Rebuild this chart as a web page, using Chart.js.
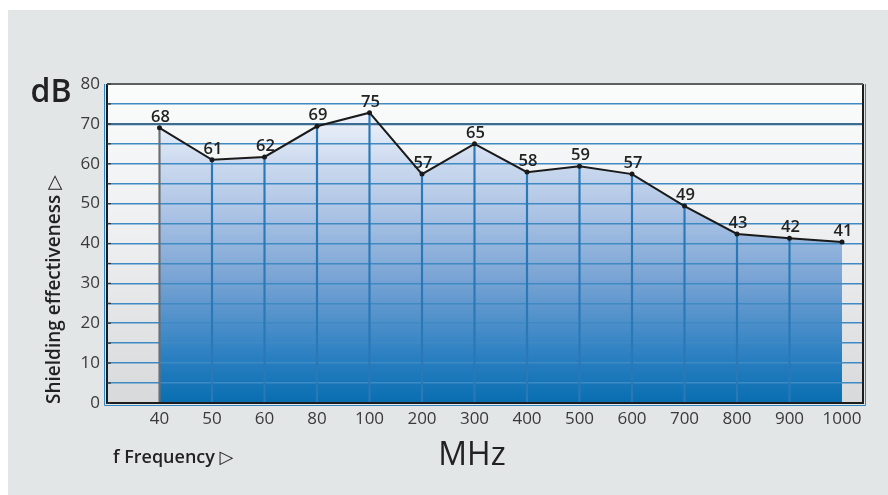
<!DOCTYPE html>
<html>
<head>
<meta charset="utf-8">
<script src="https://cdn.jsdelivr.net/npm/chart.js@4"></script>
<style>
html,body{margin:0;padding:0;background:#fff}
#wrap{width:888px;height:495px;position:relative}
</style>
</head>
<body>
<div id="wrap"><canvas id="grafico" width="888" height="495"></canvas></div>
<script>

// frequency categories (MHz)
const frecuencias = ["40","50","60","80","100","200","300","400","500","600","700","800","900","1000"]

// measured curve as it is plotted (dB)
const valores = [69,61,61.7,69.4,72.8,57.4,65,57.9,59.4,57.4,49.4,42.4,41.3,40.4]

// printed labels over each point
const etiquetas = ["68","61","62","69","75","57","65","58","59","57","49","43","42","41"]

const yTicks = [0,10,20,30,40,50,60,70,80]

const puntos = valores.map((v,i) => ({x:i, y:v}))

const FONT = "'Open Sans', 'DejaVu Sans', sans-serif"


/* =========================
FONDO (detras de todo)
========================= */

const fondo = {
id:"fondo",
beforeDraw(chart){
const ctx = chart.ctx
const a = chart.chartArea
ctx.save()
ctx.globalCompositeOperation = "destination-over"

let g = ctx.createLinearGradient(0,a.top,0,a.bottom)
g.addColorStop(0,"#fbfcfc")
g.addColorStop(0.5,"#eceeef")
g.addColorStop(1,"#d7d9da")
ctx.fillStyle = g
ctx.fillRect(a.left,a.top,a.right-a.left,a.bottom-a.top)

ctx.fillStyle = "#e3e6e7"
ctx.fillRect(8,10,chart.width-8,chart.height-10)

ctx.fillStyle = "#ffffff"
ctx.fillRect(0,0,chart.width,chart.height)
ctx.restore()
}
}


/* =========================
MARCO + TEXTOS
========================= */

const marco = {
id:"marco",
afterDraw(chart){
const ctx = chart.ctx
const a = chart.chartArea
ctx.save()

// outer blue line
ctx.strokeStyle = "#2f86c4"
ctx.lineWidth = 1
ctx.beginPath()
ctx.moveTo(a.left-2.5,a.top)
ctx.lineTo(a.left-2.5,a.bottom+2.5)
ctx.lineTo(a.right+2.5,a.bottom+2.5)
ctx.lineTo(a.right+2.5,a.top)
ctx.stroke()

// dark frame
ctx.strokeStyle = "#1c1c1c"
ctx.lineWidth = 2
ctx.beginPath()
ctx.moveTo(a.left,a.top)
ctx.lineTo(a.left,a.bottom)
ctx.lineTo(a.right,a.bottom)
ctx.lineTo(a.right,a.top)
ctx.stroke()

ctx.strokeStyle = "#5d6062"
ctx.beginPath()
ctx.moveTo(a.left,a.top)
ctx.lineTo(a.right,a.top)
ctx.stroke()

// small inner ticks on the left axis
ctx.strokeStyle = "#333"
ctx.lineWidth = 1.2
chart.scales.y.ticks.forEach(function(t){
let y = chart.scales.y.getPixelForValue(t.value)
ctx.beginPath()
ctx.moveTo(a.left,y)
ctx.lineTo(a.left+4,y)
ctx.stroke()
})

// big unit labels
ctx.fillStyle = "#222"
ctx.textAlign = "center"
ctx.textBaseline = "alphabetic"
ctx.font = "600 32px " + FONT
ctx.fillText("dB",51,102)
ctx.font = "500 32px " + FONT
ctx.fillText("MHz",472,465)

ctx.font = "600 18px " + FONT
ctx.textAlign = "left"
ctx.fillText("f Frequency \u25B7",113,463)

ctx.font = "600 19px " + FONT
ctx.translate(60,404)
ctx.rotate(-Math.PI/2)
ctx.fillText("Shielding effectiveness \u25B7",0,0)

ctx.restore()
}
}


/* =========================
ETIQUETAS DE VALOR
========================= */

const etiquetasPlugin = {
id:"etiquetas",
afterDatasetsDraw(chart){
const ctx = chart.ctx
const meta = chart.getDatasetMeta(1)
ctx.save()
ctx.font = "600 16.5px " + FONT
ctx.fillStyle = "#222"
ctx.textAlign = "center"
ctx.textBaseline = "alphabetic"
meta.data.forEach(function(p,i){
ctx.fillText(etiquetas[i],p.x+1,p.y-6)
})
ctx.restore()
}
}


function rellenoAzul(context){
const area = context.chart.chartArea
if(!area){ return "#6f9dd0" }
const g = context.chart.ctx.createLinearGradient(0,area.top,0,area.bottom)
g.addColorStop(0,"#ffffff")
g.addColorStop(0.1,"#eef2fa")
g.addColorStop(0.25,"#cbd9ee")
g.addColorStop(0.4,"#adc4e5")
g.addColorStop(0.62,"#76a2d3")
g.addColorStop(0.85,"#2c80c2")
g.addColorStop(1,"#086eb0")
return g
}


new Chart(document.getElementById("grafico"),{

type:"bar",

data:{
datasets:[
{
type:"bar",
data:puntos,
backgroundColor:puntos.map((p,i)=> i==0 ? "#6b6f75" : (i==puntos.length-1 ? "rgba(0,0,0,0)" : "#2a78b6")),
barThickness:1.5,
order:2
},
{
type:"line",
data:puntos,
borderColor:"#1a1a1a",
borderWidth:2,
pointRadius:2.5,
pointBackgroundColor:"#1a1a1a",
pointBorderWidth:0,
tension:0,
fill:"origin",
backgroundColor:rellenoAzul,
order:1
}
]
},

options:{
responsive:false,
animation:false,
events:[],
layout:{padding:{left:0,top:84,right:25,bottom:0}},
plugins:{
legend:{display:false},
tooltip:{enabled:false},
filler:{drawTime:"beforeDraw"}
},
scales:{
x:{
type:"linear",
offset:false,
min:-1,
max:13.4,
afterBuildTicks:function(s){ s.ticks = frecuencias.map((f,i)=>({value:i})) },
afterFit:function(s){ s.height = 92 },
grid:{display:false,drawTicks:false},
border:{display:false},
ticks:{
padding:6,
autoSkip:false,
maxRotation:0,
color:"#3a3a3a",
font:{family:FONT,size:17,weight:"400"},
callback:function(v){ return frecuencias[v] }
}
},
y:{
min:0,
max:80,
afterBuildTicks:function(s){
let t = []
for(let v=0; v<=80; v+=5){ t.push({value:v}) }
s.ticks = t
},
afterFit:function(s){ s.width = 107 },
border:{display:false},
grid:{
drawTicks:false,
color:function(c){
let v = c.tick.value
if(v==80 || v==0){ return "rgba(0,0,0,0)" }
if(v==70){ return "#3b6d93" }
return "#3f8ac3"
},
lineWidth:function(c){ return c.tick.value==70 ? 2.2 : 1.6 }
},
ticks:{
autoSkip:false,
padding:7,
color:"#3a3a3a",
font:{family:FONT,size:17,weight:"400"},
callback:function(v){ return yTicks.includes(v) ? String(v) : "" }
}
}
}
},

plugins:[fondo,etiquetasPlugin,marco]

})

</script>
</body>
</html>
